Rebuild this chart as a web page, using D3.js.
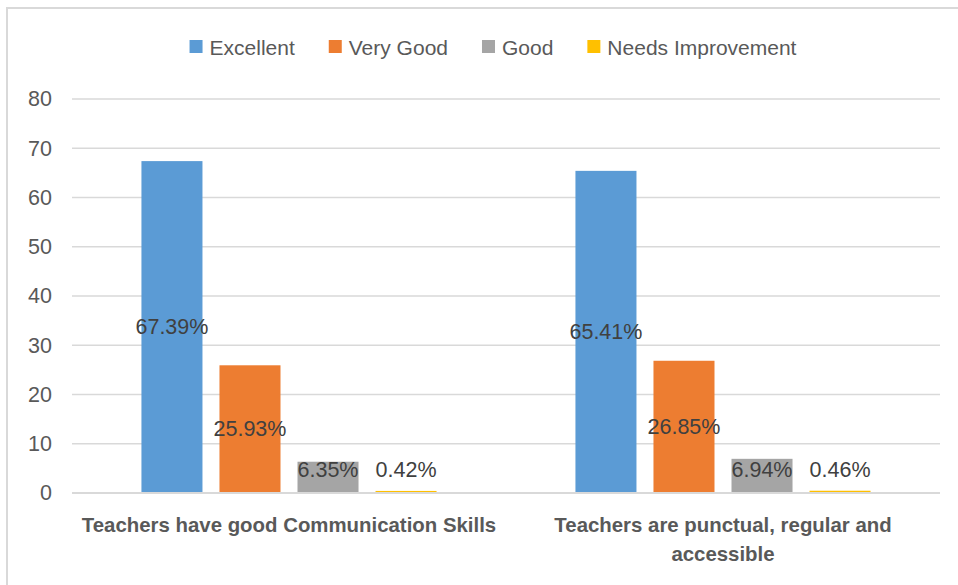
<!DOCTYPE html>
<html>
<head>
<meta charset="utf-8">
<script src="https://cdn.jsdelivr.net/npm/d3@7"></script>
<style>
  body { margin: 0; background: #fff; }
  svg { display: block; font-family: "Liberation Sans", Arial, sans-serif; }
</style>
</head>
<body>
<div></div>
<script>
const WIDTH = 958;
const HEIGHT = 585;

// data
const categories = ["Teachers have good Communication Skills", "Teachers are punctual, regular and accessible"];
const seriesNames = ["Excellent", "Very Good", "Good", "Needs Improvement"];
const excellent = [67.39, 65.41];
const veryGood = [25.93, 26.85];
const good = [6.35, 6.94];
const needsImprovement = [0.42, 0.46];
const yTicks = [0, 10, 20, 30, 40, 50, 60, 70, 80];

const colors = ["#5B9BD5", "#ED7D31", "#A5A5A5", "#FFC000"];
const values = [excellent, veryGood, good, needsImprovement];

const rows = categories.map((c, i) => ({
  cat: c,
  vals: seriesNames.map((s, j) => ({ key: s, value: values[j][i] }))
}));

const plotLeft = 72, plotRight = 940, plotTop = 99, plotBottom = 493;

const svg = d3.select("div").append("svg")
  .attr("width", WIDTH)
  .attr("height", HEIGHT);

// chart frame (only left and top edges show in the picture)
svg.append("path")
  .attr("d", `M7,${HEIGHT} V8 H${WIDTH}`)
  .attr("fill", "none")
  .attr("stroke", "#d9d9d9")
  .attr("stroke-width", 2);

const x0 = d3.scaleBand().domain(categories).range([plotLeft, plotRight]).paddingInner(0).paddingOuter(0);
const x1 = d3.scaleBand().domain(seriesNames).range([0, x0.bandwidth()]).paddingInner(0.218).paddingOuter(0.89);
const y = d3.scaleLinear().domain([0, 80]).range([plotBottom, plotTop]);

// gridlines
svg.append("g")
  .selectAll("line")
  .data(yTicks)
  .join("line")
  .attr("x1", plotLeft).attr("x2", plotRight)
  .attr("y1", d => y(d)).attr("y2", d => y(d))
  .attr("stroke", "#d9d9d9")
  .attr("stroke-width", 1.5);

// y axis labels
const yAxis = svg.append("g")
  .attr("transform", `translate(${plotLeft},0)`)
  .call(d3.axisLeft(y).tickValues(yTicks).tickSize(0).tickPadding(20));
yAxis.select(".domain").remove();
yAxis.selectAll("text")
  .attr("fill", "#595959")
  .style("font-size", "21.5px")
  .style("font-family", "'Liberation Sans', Arial, sans-serif");

// bars
const groups = svg.append("g")
  .selectAll("g")
  .data(rows)
  .join("g")
  .attr("transform", d => `translate(${x0(d.cat)},0)`);

groups.selectAll("rect")
  .data(d => d.vals)
  .join("rect")
  .attr("x", d => x1(d.key))
  .attr("width", x1.bandwidth())
  .attr("y", d => y(d.value))
  .attr("height", d => y(0) - y(d.value))
  .attr("fill", (d, i) => colors[i]);

// category axis line on top of the bars
svg.append("line")
  .attr("x1", plotLeft).attr("x2", plotRight)
  .attr("y1", y(0)).attr("y2", y(0))
  .attr("stroke", "#d9d9d9")
  .attr("stroke-width", 2);

// data labels, centred in the bar but kept above the axis
groups.selectAll("text")
  .data(d => d.vals)
  .join("text")
  .attr("x", d => x1(d.key) + x1.bandwidth() / 2)
  .attr("y", d => Math.min((y(d.value) + y(0)) / 2, y(0) - 23))
  .attr("text-anchor", "middle")
  .attr("dominant-baseline", "central")
  .attr("fill", "#404040")
  .style("font-size", "21.5px")
  .text(d => d.value.toFixed(2) + "%");

// category labels with wrapping
const catLabels = svg.append("g")
  .selectAll("text")
  .data(categories)
  .join("text")
  .attr("x", d => x0(d) + x0.bandwidth() / 2)
  .attr("y", 532)
  .attr("text-anchor", "middle")
  .attr("fill", "#595959")
  .style("font-size", "20.4px")
  .style("font-weight", "bold")
  .text(d => d);

catLabels.each(function (d) {
  const t = d3.select(this);
  const words = d.split(" ");
  const maxW = x0.bandwidth() - 6;
  t.text(null);
  let line = [];
  let tspan = t.append("tspan").attr("x", t.attr("x")).attr("dy", 0);
  words.forEach(w => {
    line.push(w);
    tspan.text(line.join(" "));
    if (tspan.node().getComputedTextLength() > maxW && line.length > 1) {
      line.pop();
      tspan.text(line.join(" "));
      line = [w];
      tspan = t.append("tspan").attr("x", t.attr("x")).attr("dy", 29).text(w);
    }
  });
});

// legend
const legend = svg.append("g");
const items = legend.selectAll("g")
  .data(seriesNames)
  .join("g");
items.append("rect")
  .attr("width", 13).attr("height", 13)
  .attr("y", 40)
  .attr("fill", (d, i) => colors[i]);
items.append("text")
  .attr("x", 20)
  .attr("y", 47)
  .attr("dominant-baseline", "central")
  .attr("fill", "#595959")
  .style("font-size", "21px")
  .text(d => d);

let cursor = 0;
items.each(function () {
  const g = d3.select(this);
  g.attr("transform", `translate(${cursor},0)`);
  cursor += 20 + g.select("text").node().getComputedTextLength() + 34;
});
const legendW = cursor - 34;
legend.attr("transform", `translate(${493 - legendW / 2},0)`);
</script>
</body>
</html>
